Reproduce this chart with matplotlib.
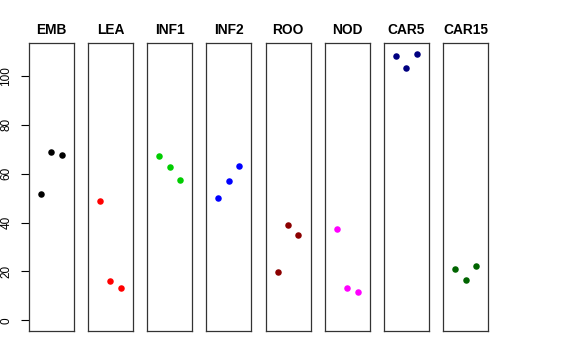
import matplotlib
matplotlib.use('Agg')
import matplotlib.pyplot as plt

plt.rcParams['font.family'] = ['Liberation Sans', 'DejaVu Sans']

# Panel names and colours
groups = ['EMB', 'LEA', 'INF1', 'INF2', 'ROO', 'NOD', 'CAR5', 'CAR15']
colors = ['black', '#FF0000', '#00CD00', '#0000FF', '#8B0000', '#FF00FF', '#000080', '#006400']

# Three replicate values per group
emb = [51.6, 69.0, 67.8]
lea = [48.7, 16.0, 13.1]
inf1 = [67.3, 62.9, 57.6]
inf2 = [49.9, 57.0, 63.0]
roo = [19.6, 39.2, 35.1]
nod = [37.5, 13.4, 11.6]
car5 = [108.3, 103.2, 109.0]
car15 = [21.0, 16.4, 22.2]
values = [emb, lea, inf1, inf2, roo, nod, car5, car15]

reps = [1, 2, 3]
yticks = [0, 20, 40, 60, 80, 100]

W, H = 576, 360
fig = plt.figure(figsize=(W / 100, H / 100), dpi=100)

left0, step, width = 28.7, 59.2, 45.0
top, bottom = 43.3, 331.0

# R style range: data range plus 4% each side
ylo, yhi = 0, 109.0
ypad = (yhi - ylo) * 0.04
xpad = 4 * 0.04

for i, (name, col, vals) in enumerate(zip(groups, colors, values)):
    ax = fig.add_axes([(left0 + i * step) / W, (H - bottom) / H,
                       width / W, (bottom - top) / H])
    ax.scatter(reps, vals, s=22, color=col, linewidths=0, zorder=3)
    ax.set_xlim(0 - xpad, 4 + xpad)
    ax.set_ylim(ylo - ypad, yhi + ypad)
    ax.set_xticks([])
    ax.set_title(name, fontsize=9.9, fontweight='bold', pad=7)
    for sp in ax.spines.values():
        sp.set_linewidth(0.9)
        sp.set_color('#333333')
    if i == 0:
        ax.set_yticks(yticks)
        ax.tick_params(axis='y', length=5.8, width=0.8, labelsize=8.5, pad=6)
        for lab in ax.get_yticklabels():
            lab.set_rotation(90)
            lab.set_va('center')
    else:
        ax.set_yticks([])

fig.savefig('out.png', dpi=100)
